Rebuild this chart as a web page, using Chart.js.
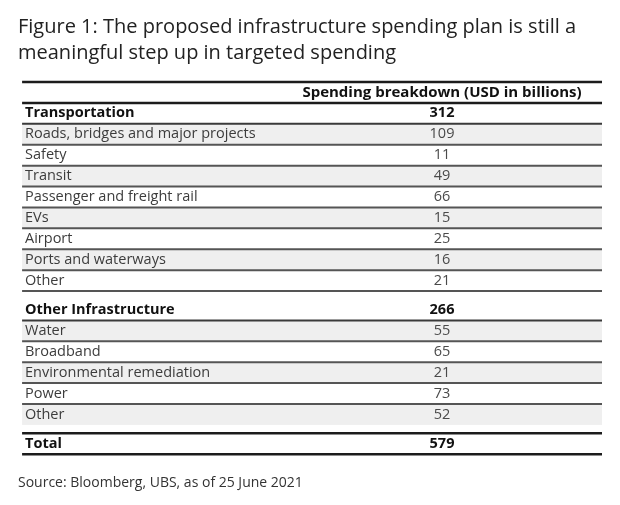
<!DOCTYPE html>
<html lang="en">
<head>
<meta charset="UTF-8" />
<title>Infrastructure spending breakdown</title>
<script src="https://cdn.jsdelivr.net/npm/chart.js"></script>
<style>
  html, body { margin: 0; padding: 0; background: #fff; }
  #wrap { width: 620px; height: 505px; }
</style>
</head>
<body>
<div id="wrap"><canvas id="spendTable"></canvas></div>
<script>
  const titleLines = [
    'Figure 1: The proposed infrastructure spending plan is still a',
    'meaningful step up in targeted spending'
  ];
  const columnHeader = 'Spending breakdown (USD in billions)';
  const sourceNote = 'Source: Bloomberg, UBS, as of 25 June 2021';

  const groupNames = ['Transportation', 'Other Infrastructure'];
  const groupTotals = [312, 266];

  const transportItems = ['Roads, bridges and major projects', 'Safety', 'Transit',
    'Passenger and freight rail', 'EVs', 'Airport', 'Ports and waterways', 'Other'];
  const transportValues = [109, 11, 49, 66, 15, 25, 16, 21];

  const otherItems = ['Water', 'Broadband', 'Environmental remediation', 'Power', 'Other'];
  const otherValues = [55, 65, 21, 73, 52];

  const totalLabel = 'Total';
  const grandTotal = 579;

  // layout in row units (y) and fractions of the width (x)
  const GAP = 0.4;
  const TABLE_LEFT = 0.007;
  const LABEL_X = 0.012;
  const VALUE_X = 0.726;
  const FONT = '"Open Sans", "DejaVu Sans", sans-serif';

  const rows = [];
  let cursor = 1; // first unit is the column header
  [[transportItems, transportValues], [otherItems, otherValues]].forEach(([items, vals], g) => {
    if (g > 0) cursor += GAP;
    rows.push({ label: groupNames[g], value: groupTotals[g], kind: 'group', pos: cursor + 0.5 });
    cursor += 1;
    items.forEach((name, i) => {
      rows.push({
        label: name, value: vals[i], kind: 'item', pos: cursor + 0.5,
        stripe: i % 2 === 0,
        rule: !(g === 1 && i === items.length - 1)
      });
      cursor += 1;
    });
  });
  cursor += GAP;
  rows.push({ label: totalLabel, value: grandTotal, kind: 'total', pos: cursor + 0.5 });
  cursor += 1;
  const unitCount = cursor;

  const tablePlugin = {
    id: 'tablePlugin',
    beforeDatasetsDraw(chart) {
      const { ctx, scales: { x, y } } = chart;
      const left = x.getPixelForValue(TABLE_LEFT), right = x.getPixelForValue(1);
      ctx.save();
      ctx.fillStyle = '#efefef';
      rows.forEach(r => {
        if (r.kind !== 'item' || !r.stripe) return;
        const top = y.getPixelForValue(r.pos - 0.5), bottom = y.getPixelForValue(r.pos + 0.5);
        ctx.fillRect(left, top, right - left, bottom - top);
      });
      ctx.restore();
    },
    afterDatasetsDraw(chart) {
      const { ctx, scales: { x, y } } = chart;
      const left = x.getPixelForValue(TABLE_LEFT), right = x.getPixelForValue(1);
      const rule = (v, w, color) => {
        const py = y.getPixelForValue(v);
        ctx.strokeStyle = color;
        ctx.lineWidth = w;
        ctx.beginPath();
        ctx.moveTo(left, py);
        ctx.lineTo(right, py);
        ctx.stroke();
      };
      ctx.save();
      rule(0, 2.5, '#1c1c1c');
      rule(1, 2.5, '#1c1c1c');
      rows.forEach(r => {
        if (r.kind === 'group') rule(r.pos + 0.5, 2, '#3a3a3a');
        else if (r.kind === 'item' && r.rule) rule(r.pos + 0.5, 2, '#555');
        else if (r.kind === 'total') {
          rule(r.pos - 0.5, 2.5, '#1c1c1c');
          rule(r.pos + 0.5, 2.5, '#1c1c1c');
        }
      });

      ctx.textBaseline = 'middle';
      // column header
      ctx.textAlign = 'center';
      ctx.fillStyle = '#111';
      ctx.font = 'bold 15px ' + FONT;
      ctx.fillText(columnHeader, x.getPixelForValue(VALUE_X), y.getPixelForValue(0.5));

      // row labels and values
      const meta = chart.getDatasetMeta(0);
      rows.forEach((r, i) => {
        const bold = r.kind !== 'item';
        ctx.font = (bold ? 'bold ' : '') + '14.5px ' + FONT;
        ctx.fillStyle = bold ? '#111' : '#3c3c3c';
        ctx.textAlign = 'left';
        ctx.fillText(r.label, x.getPixelForValue(LABEL_X), y.getPixelForValue(r.pos));
        const pt = meta.data[i];
        ctx.textAlign = 'center';
        ctx.fillStyle = bold ? '#111' : '#4a4a4a';
        ctx.fillText(String(r.value), pt.x, pt.y);
      });
      ctx.restore();
    }
  };

  new Chart(document.getElementById('spendTable'), {
    type: 'scatter',
    data: {
      datasets: [{
        data: rows.map(r => ({ x: VALUE_X, y: r.pos })),
        pointRadius: 0,
        pointHoverRadius: 0
      }]
    },
    options: {
      responsive: true,
      maintainAspectRatio: false,
      animation: false,
      events: [],
      layout: { padding: { left: 18, right: 18, top: 0, bottom: 0 } },
      scales: {
        x: { display: false, min: 0, max: 1 },
        y: { display: false, min: 0, max: unitCount, reverse: true }
      },
      plugins: {
        legend: { display: false },
        tooltip: { enabled: false },
        title: {
          display: true,
          text: titleLines,
          align: 'start',
          color: '#222',
          font: { family: FONT, size: 20, weight: 'normal', lineHeight: 1.3 },
          padding: { top: 14, bottom: 16 }
        },
        subtitle: {
          display: true,
          position: 'bottom',
          text: sourceNote,
          align: 'start',
          color: '#333',
          font: { family: FONT, size: 14, weight: 'normal', lineHeight: 1.2 },
          padding: { top: 20, bottom: 14 }
        }
      }
    },
    plugins: [tablePlugin]
  });
</script>
</body>
</html>
